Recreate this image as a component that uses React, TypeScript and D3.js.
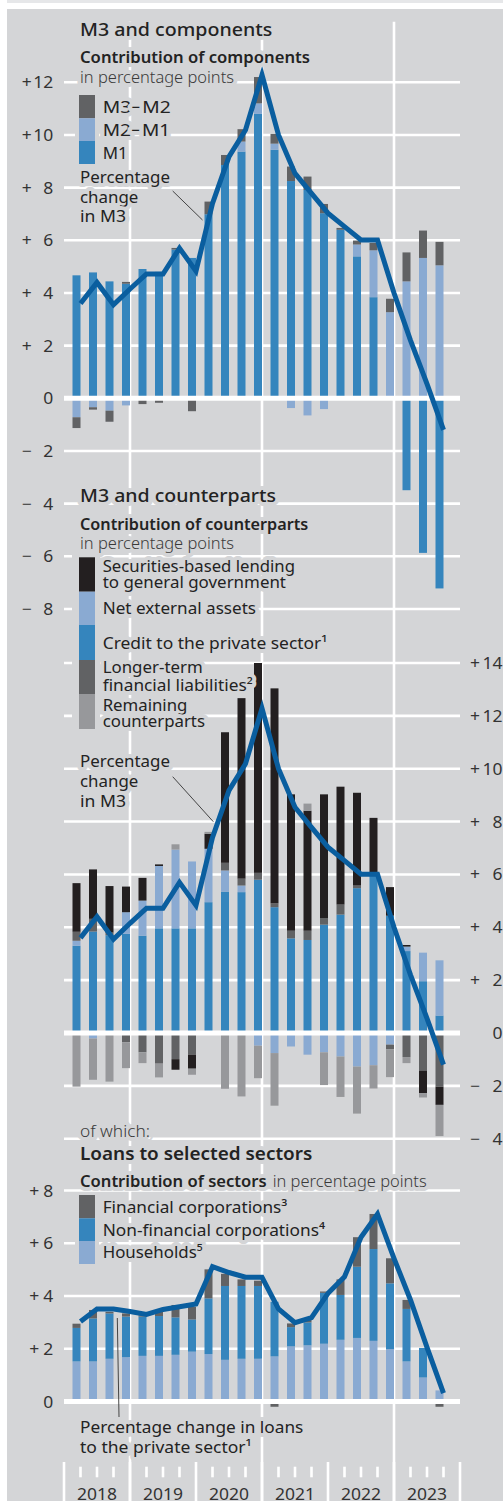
import React from "react";
import * as d3 from "d3";

// ---------- DATA ----------
const years = ["2018", "2019", "2020", "2021", "2022", "2023"];
const quarters = [
  "2018Q1", "2018Q2", "2018Q3", "2018Q4",
  "2019Q1", "2019Q2", "2019Q3", "2019Q4",
  "2020Q1", "2020Q2", "2020Q3", "2020Q4",
  "2021Q1", "2021Q2", "2021Q3", "2021Q4",
  "2022Q1", "2022Q2", "2022Q3", "2022Q4",
  "2023Q1", "2023Q2", "2023Q3",
];

// Panel 1: M3 and components (percentage points)
const m1 = [4.67, 4.78, 4.44, 4.35, 4.91, 4.8, 5.65, 5.33, 6.99, 8.86, 9.37, 10.8, 9.44, 8.25, 7.91, 7.03, 6.4, 5.39, 3.84, -0.05, -3.49, -5.87, -7.22];
const m2m1 = [-0.72, -0.34, -0.47, -0.27, -0.05, -0.05, 0, 0, 0, 0, 0.38, 0.4, 0.23, -0.37, -0.65, -0.41, 0, 0.45, 1.78, 3.27, 4.44, 5.33, 5.05];
const m3m2 = [-0.41, -0.09, -0.42, 0.07, -0.17, -0.12, 0.06, -0.49, 0.48, 0.38, 0.47, 1.0, 0.37, 0.55, 0.51, 0.35, 0.07, 0.15, 0.28, 0.51, 1.1, 1.04, 0.89];
const m3Growth = [3.6, 4.4, 3.55, 4.15, 4.72, 4.72, 5.7, 4.83, 7.4, 9.18, 10.19, 12.28, 10.0, 8.54, 7.78, 7.03, 6.52, 6.01, 6.01, 4.0, 2.2, 0.55, -1.2];

// Panel 2: M3 and counterparts
const credit = [3.3, 3.84, 3.7, 3.75, 3.68, 3.96, 3.96, 3.96, 4.95, 5.35, 5.33, 5.8, 4.76, 3.58, 3.52, 4.1, 4.48, 5.48, 6.06, 4.44, 3.1, 1.96, 0.66];
const netExternal = [0.19, -0.21, 0, 0.82, 1.33, 2.36, 2.98, 2.53, 2.02, 0.8, 0.25, -0.48, -0.76, -0.51, -0.82, -0.73, -0.89, -1.27, -1.22, -0.44, 0.17, 1.08, 2.09];
const longerTerm = [0.34, 0.48, 0.1, -0.35, -0.73, -1.16, -0.99, -0.82, 0, 0.29, 0.26, 0.26, 0.15, 0.29, 0.35, 0.25, 0.38, 0.1, 0, -0.17, -0.91, -1.42, -2.03];
const securities = [1.84, 1.87, 1.76, 0.97, 0.86, 0.06, -0.4, -0.53, 0.57, 4.94, 6.83, 7.94, 8.13, 5.16, 4.54, 4.68, 4.46, 3.51, 2.08, 1.08, 0.06, -0.86, -0.69];
const remaining = [-2.03, -1.56, -1.84, -0.98, -0.41, -0.52, 0.2, -0.23, 0.07, -2.11, -2.4, -1.23, -1.99, 0, 0.27, -1.24, -1.53, -1.78, -0.88, -1.06, -0.23, -0.16, -1.18];

// Panel 3: Loans to selected sectors
const households = [1.52, 1.52, 1.62, 1.68, 1.73, 1.73, 1.77, 1.89, 1.8, 1.58, 1.62, 1.62, 1.71, 2.09, 2.13, 2.19, 2.34, 2.41, 2.3, 1.99, 1.52, 0.91, 0.42];
const nonFinancial = [1.27, 1.63, 1.72, 1.54, 1.49, 1.51, 1.42, 1.22, 2.11, 2.8, 2.76, 2.76, 2.07, 0.73, 0.87, 1.93, 1.7, 2.7, 3.48, 2.49, 1.99, 1.12, 0];
const financial = [0.16, 0.32, 0.06, 0.12, 0.05, 0.23, 0.47, 0.48, 1.1, 0.46, 0.25, 0.2, -0.2, 0.14, 0.12, 0.05, 0.59, 1.12, 1.33, 0.95, 0.34, 0, -0.2];
const loanGrowth = [3.03, 3.51, 3.51, 3.41, 3.3, 3.49, 3.59, 3.7, 5.11, 4.89, 4.71, 4.71, 3.51, 2.99, 3.18, 4.1, 4.73, 6.23, 7.11, 5.43, 3.85, 2.05, 0.32];

const ticks1 = [-8, -6, -4, -2, 0, 2, 4, 6, 8, 10, 12];
const ticks2 = [-4, -2, 0, 2, 4, 6, 8, 10, 12, 14];
const ticks3 = [0, 2, 4, 6, 8];

// ---------- STYLE ----------
const W = 503, H = 1501;
const BG = "#d4d5d7";
const C_BLUE = "#3585bd";
const C_LIGHT = "#8aaad2";
const C_DARK = "#616264";
const C_BLACK = "#231f20";
const C_MID = "#97989b";
const C_LINE = "#0a5e9f";
const TXT = "#232323";
const FONT = "'Noto Sans', 'Open Sans', sans-serif";

const x = d3.scaleLinear().domain([0, 24]).range([64, 460]);
const y1 = d3.scaleLinear().domain([0, 12]).range([398.3, 82.3]);
const y2 = d3.scaleLinear().domain([0, 14]).range([1033, 663]);
const y3 = d3.scaleLinear().domain([0, 8]).range([1401.5, 1190.5]);
const BAR_W = 8;

type Series = { key: string; values: number[]; color: string };

function stackBars(series: Series[], y: d3.ScaleLinear<number, number>, id: string) {
  const rows = quarters.map((q, i) => {
    const r: any = { q };
    series.forEach((s) => (r[s.key] = s.values[i]));
    return r;
  });
  const st = d3.stack<any>().keys(series.map((s) => s.key)).offset(d3.stackOffsetDiverging)(rows);
  const out: any[] = [];
  st.forEach((layer, li) => {
    layer.forEach((d, i) => {
      const a = y(d[0]), b = y(d[1]);
      const h = Math.abs(a - b);
      if (h < 0.01) return;
      out.push(
        <rect key={`${id}-${li}-${i}`} x={x(i + 1) - BAR_W} y={Math.min(a, b)} width={BAR_W} height={h} fill={series[li].color} />
      );
    });
  });
  return out;
}

function HText(props: any) {
  const { x, y, size = 16.5, weight = 400, anchor = "start", fill = TXT, halo = 8, w, children } = props;
  return (
    <text x={x} y={y} fontSize={size} fontWeight={weight} textAnchor={anchor} fill={fill}
      stroke={halo ? BG : "none"} strokeWidth={halo} strokeLinejoin="round" paintOrder="stroke" fontFamily={FONT}
      textLength={w} lengthAdjust={w ? "spacingAndGlyphs" : undefined}>
      {children}
    </text>
  );
}

function signOf(v: number) {
  return v > 0 ? "+" : v < 0 ? "\u2212" : "";
}

export default function App() {
  const line1 = d3.line<number>().x((_, i) => x(i + 1)).y((d) => y1(d))(m3Growth) as string;
  const line2 = d3.line<number>().x((_, i) => x(i + 1)).y((d) => y2(d))(m3Growth) as string;
  const line3 = d3.line<number>().x((_, i) => x(i + 1)).y((d) => y3(d))(loanGrowth) as string;

  const s1: Series[] = [
    { key: "m1", values: m1, color: C_BLUE },
    { key: "m2m1", values: m2m1, color: C_LIGHT },
    { key: "m3m2", values: m3m2, color: C_DARK },
  ];
  const s2: Series[] = [
    { key: "credit", values: credit, color: C_BLUE },
    { key: "net", values: netExternal, color: C_LIGHT },
    { key: "ltfl", values: longerTerm, color: C_DARK },
    { key: "sec", values: securities, color: C_BLACK },
    { key: "rem", values: remaining, color: C_MID },
  ];
  const s3: Series[] = [
    { key: "hh", values: households, color: C_LIGHT },
    { key: "nfc", values: nonFinancial, color: C_BLUE },
    { key: "fc", values: financial, color: C_DARK },
  ];

  const gridH = (ticks: number[], y: d3.ScaleLinear<number, number>, id: string) =>
    ticks.map((t) => (
      <line key={`${id}${t}`} x1={64} x2={460} y1={y(t)} y2={y(t)} stroke="#fff" strokeWidth={2.6} />
    ));

  const swatch = (yTop: number, h: number, color: string, k: string) => (
    <rect key={k} x={79} y={yTop} width={16} height={h} fill={color} />
  );

  const tickLabel = (t: number, y: number, sx: number, nx: number, k: string) => {
    const s = String(Math.abs(t));
    return (
      <g key={k} fontSize={17} fill="#333" fontFamily={FONT}>
        <text x={sx} y={y + 6} textLength={t === 0 ? undefined : 10} lengthAdjust="spacingAndGlyphs">{signOf(t)}</text>
        <text x={nx} y={y + 6} textAnchor="end" textLength={s.length * 10} lengthAdjust="spacingAndGlyphs">{s}</text>
      </g>
    );
  };

  return (
    <svg width={W} height={H} viewBox={`0 0 ${W} ${H}`} style={{ position: "absolute", left: 0, top: 0, display: "block" }} fontFamily={FONT}>
      <rect x={0} y={0} width={W} height={H} fill="#fff" />
      <rect x={7} y={0} width={W - 7} height={3} fill="#e6e7e9" />
      <rect x={7} y={9} width={W - 7} height={H - 9} fill={BG} />

      {/* vertical gridlines */}
      {[4, 12, 20].map((q) => (
        <line key={`v${q}`} x1={x(q)} x2={x(q)} y1={21.7} y2={H} stroke="#fff" strokeWidth={2.6} />
      ))}
      {gridH(ticks1.filter((t) => t !== 0), y1, "g1")}
      {gridH(ticks2.filter((t) => t !== 0), y2, "g2")}
      {gridH(ticks3.filter((t) => t !== 0), y3, "g3")}

      {/* bars */}
      {stackBars(s1, y1, "p1")}
      {stackBars(s2, y2, "p2")}
      {stackBars(s3, y3, "p3")}

      {/* zero lines */}
      <line x1={64} x2={460} y1={y1(0)} y2={y1(0)} stroke="#fff" strokeWidth={5} />
      <line x1={64} x2={460} y1={y2(0)} y2={y2(0)} stroke="#fff" strokeWidth={5} />
      <line x1={64} x2={460} y1={y3(0)} y2={y3(0)} stroke="#fff" strokeWidth={5} />

      {/* leader lines */}
      <line x1={172.7} y1={191} x2={202.5} y2={220} stroke="#333" strokeWidth={0.9} />
      <line x1={172.7} y1={776.7} x2={213.3} y2={821.7} stroke="#333" strokeWidth={0.9} />
      <line x1={117.3} y1={1318} x2={119} y2={1417} stroke="#333" strokeWidth={0.9} />

      {/* lines */}
      <path d={line1} fill="none" stroke={C_LINE} strokeWidth={5} strokeLinejoin="miter" />
      <path d={line2} fill="none" stroke={C_LINE} strokeWidth={5} strokeLinejoin="miter" />
      <path d={line3} fill="none" stroke={C_LINE} strokeWidth={5} strokeLinejoin="miter" />

      {/* Panel 1 texts */}
      <HText x={80} y={35.7} size={18.5} weight={500} w={192.3}>M3 and components</HText>
      <HText x={80} y={63.3} size={16.5} weight={600} w={230}>Contribution of components</HText>
      <HText x={80} y={83.3} size={16.5} weight={300} fill="#3a3a3a" w={154}>in percentage points</HText>
      <rect x={75} y={91} width={24} height={77} fill={BG} />
      {swatch(95, 23.3, C_DARK, "sw1a")}
      {swatch(118.3, 22.7, C_LIGHT, "sw1b")}
      {swatch(141, 23, C_BLUE, "sw1c")}
      <HText x={102.7} y={113.3} w={68}>M3{"\u2212"}M2</HText>
      <HText x={102.7} y={136} w={67.5}>M2{"\u2212"}M1</HText>
      <HText x={102.7} y={159.3} w={25}>M1</HText>
      <HText x={80} y={182.7} w={90}>Percentage</HText>
      <HText x={80} y={202.7} w={58.3}>change</HText>
      <HText x={80} y={221.7} w={46}>in M3</HText>

      {/* Panel 2 texts */}
      <HText x={80} y={501.7} size={18.5} weight={500} w={196}>M3 and counterparts</HText>
      <HText x={80} y={530} size={16.5} weight={600} w={228.3}>Contribution of counterparts</HText>
      <HText x={80} y={549} size={16.5} weight={300} fill="#3a3a3a" w={154}>in percentage points</HText>
      <rect x={72} y={553} width={28} height={180} fill={BG} />
      {swatch(557.3, 34.4, C_BLACK, "sw2a")}
      {swatch(591.7, 33.3, C_LIGHT, "sw2b")}
      {swatch(625, 35, C_BLUE, "sw2c")}
      {swatch(660, 34, C_DARK, "sw2d")}
      {swatch(694, 35, C_MID, "sw2e")}
      <HText x={102.7} y={571.7} w={192.3}>Securities-based lending</HText>
      <HText x={102.7} y={588.3} w={183.3}>to general government</HText>
      <HText x={102.7} y={614} w={153.3}>Net external assets</HText>
      <HText x={102.7} y={649} w={224.7}>Credit to the private sector¹</HText>
      <HText x={102.7} y={673.3} w={100}>Longer-term</HText>
      <HText x={102.7} y={690.7} w={150}>financial liabilities²</HText>
      <HText x={102.7} y={710.7} w={84.7}>Remaining</HText>
      <HText x={102.7} y={726.7} w={102.3}>counterparts</HText>
      <HText x={80} y={766.7} w={90}>Percentage</HText>
      <HText x={80} y={787.3} w={58.3}>change</HText>
      <HText x={80} y={807.3} w={46}>in M3</HText>

      {/* Panel 3 texts */}
      <HText x={80} y={1136.7} weight={300} fill="#3a3a3a" w={70}>of which:</HText>
      <HText x={80} y={1160} size={18.5} weight={600} w={232.3}>Loans to selected sectors</HText>
      <HText x={80} y={1187.3} weight={600} w={186.7}>Contribution of sectors</HText>
      <HText x={272.7} y={1187.3} weight={300} fill="#3a3a3a" w={154}>in percentage points</HText>
      <rect x={75} y={1192} width={24} height={76} fill={BG} />
      {swatch(1195, 23.3, C_DARK, "sw3a")}
      {swatch(1218.3, 22.7, C_BLUE, "sw3b")}
      {swatch(1241, 23, C_LIGHT, "sw3c")}
      <HText x={102.7} y={1212.7} w={184.7}>Financial corporations³</HText>
      <HText x={102.7} y={1236} w={222.3}>Non-financial corporations⁴</HText>
      <HText x={102.7} y={1258.3} w={100}>Households⁵</HText>
      <HText x={80} y={1433.3} w={223.3}>Percentage change in loans</HText>
      <HText x={80} y={1453.3} w={171.7}>to the private sector¹</HText>

      {/* axes */}
      {ticks1.map((t) => tickLabel(t, y1(t), 21.7, 53.3, `l1${t}`))}
      {ticks2.map((t) => tickLabel(t, y2(t), 470, 502.5, `r2${t}`))}
      {ticks3.map((t) => tickLabel(t, y3(t), 29.3, 53.3, `l3${t}`))}

      {/* bottom time axis */}
      {d3.range(0, 25).map((q) => (
        <line key={`t${q}`} x1={x(q)} x2={x(q)} y1={q % 4 === 0 ? 1462 : 1466.7} y2={q % 4 === 0 ? H : 1477.3}
          stroke="#fff" strokeWidth={2.6} />
      ))}
      {years.map((yr, k) => (
        <text key={yr} x={x(k * 4 + 2)} y={1500} textAnchor="middle" fontSize={16.5} fill="#333"
          textLength={40} lengthAdjust="spacingAndGlyphs">{yr}</text>
      ))}
    </svg>
  );
}
